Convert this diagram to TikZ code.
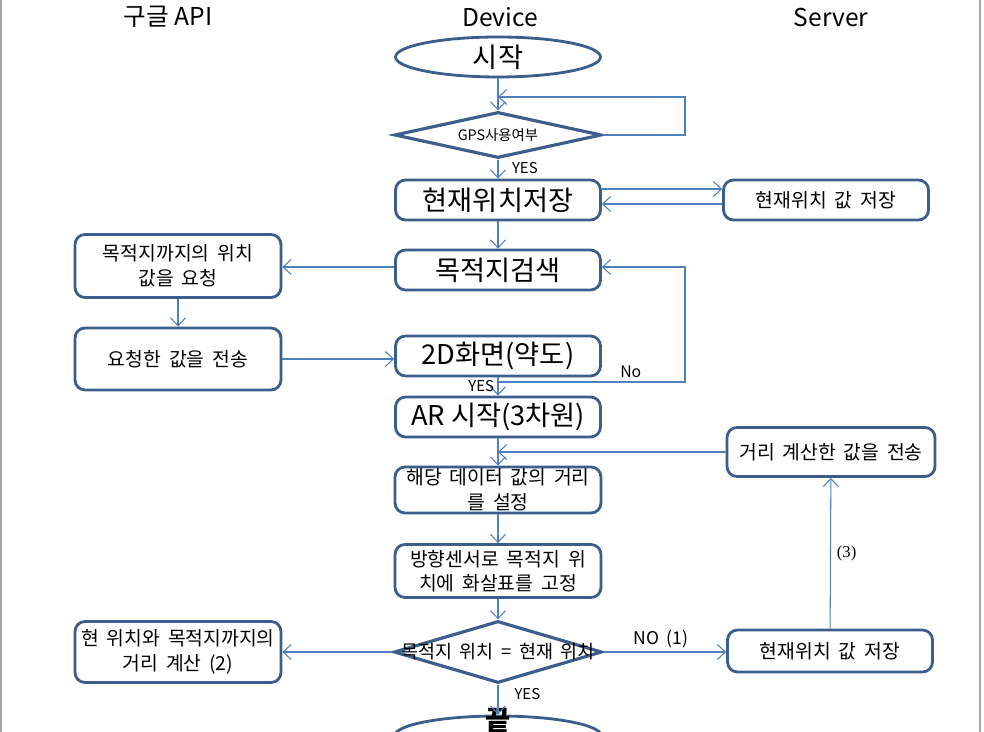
\documentclass[tikz,border=0pt]{standalone}
\usepackage{fontspec}
\setmainfont[WordSpace=1.8]{Noto Sans CJK KR}
\newfontfamily\plainkr{Noto Sans CJK KR}
\newfontfamily\numserif{Liberation Serif}
\usepackage{tikz}
\usetikzlibrary{arrows.meta,shapes.geometric}
\definecolor{boxblue}{HTML}{3B5E8C}
\definecolor{lineblue}{HTML}{4F81BD}
\definecolor{pagegray}{HTML}{A6A6A6}
\tikzstyle{big box}=[rectangle,rounded corners=0.2cm,draw=boxblue,line width=1.6pt,minimum width=4.1cm,minimum height=0.8cm,inner sep=1pt,font=\plainkr\fontsize{15.5}{18}\selectfont]
\tikzstyle{small box}=[rectangle,rounded corners=0.2cm,draw=boxblue,line width=1.6pt,minimum width=4.12cm,minimum height=0.8cm,inner sep=1pt,align=center,font=\fontsize{11}{14}\selectfont]
\tikzstyle{terminal}=[ellipse,draw=boxblue,line width=1.6pt,minimum width=4.1cm,minimum height=0.8cm,inner sep=0pt,font=\fontsize{15.5}{18}\selectfont]
\tikzstyle{decision}=[diamond,draw=boxblue,line width=1.8pt,inner sep=0pt]
\tikzstyle{flow}=[draw=lineblue,line width=0.6pt,-{Straight Barb[length=1.6mm,width=3mm]}]
\tikzstyle{lbl}=[font=\fontsize{8.5}{10}\selectfont,inner sep=2pt]
\tikzstyle{header}=[font=\plainkr\fontsize{14}{16}\selectfont]

\begin{document}
\begin{tikzpicture}[x=0.02cm,y=-0.02cm]
        \useasboundingbox (0,0) rectangle (984,732);
        \clip (0,0) rectangle (984,732);
        \draw[pagegray,line width=1pt] (1,0) -- (1,732);
        \draw[pagegray,line width=1pt] (980,0) -- (980,732);
        % lanes
        \node[header] (api) at (168,17) {구글 API};
        \node[header] (device) at (500,17) {Device};
        \node[header] (server) at (831,17) {Server};
        % device column
        \node[terminal] (start) at (498,57) {시작};
        \node[decision,minimum width=4.14cm,minimum height=0.92cm,label={center:{\fontsize{8.2}{10}\selectfont GPS사용여부}}] (gps) at (498,135) {};
        \node[big box] (cur) at (498,200) {현재위치저장};
        \node[big box] (dest) at (498,270) {목적지검색};
        \node[big box] (map) at (498,356) {2D화면(약도)};
        \node[big box] (ar) at (498,417) {AR 시작(3차원)};
        \node[small box,minimum height=0.92cm] (setd) at (498,490) {해당 데이터 값의 거리\\를 설정};
        \node[small box,minimum height=1.06cm] (sensor) at (498,571) {방향센서로 목적지 위\\치에 화살표를 고정};
        \node[decision,minimum width=4.16cm,minimum height=1.24cm,label={center:{\fontsize{10.5}{12}\selectfont 목적지 위치 = 현재 위치}}] (check) at (498,652) {};
        \node[terminal,minimum width=4.14cm,label={[yshift=0.3cm]center:{\fontsize{15.5}{18}\selectfont\bfseries 끝}}] (end) at (498,736) {};
        % google api column
        \node[small box,minimum height=1.26cm] (req) at (178,266) {목적지까지의 위치\\값을 요청};
        \node[small box,minimum height=1.24cm] (send) at (178,359) {요청한 값을 전송};
        \node[small box,minimum height=1.22cm] (calc) at (178,652) {현 위치와 목적지까지의\\거리 계산 (2)};
        % server column
        \node[small box,minimum width=4.1cm] (srv1) at (826,200) {현재위치 값 저장};
        \node[small box,minimum width=4.16cm,minimum height=0.98cm] (srv2) at (831,452) {거리 계산한 값을 전송};
        \node[small box,minimum width=4.1cm,minimum height=0.84cm] (srv3) at (830,651) {현재위치 값 저장};
        \coordinate (gpsloop) at (685,97);
        \coordinate (gpsin) at (498,97);
        \coordinate (noturn) at (685,382);
        % connectors
        \draw[flow] (start) -- (gps);
        \draw[flow] (gps.east) -- (gps.east -| gpsloop) -- (gpsloop) -- (gpsin);
        \draw[flow] (gps) -- node[lbl,right,pos=0.45,xshift=0.2cm]{YES} (cur);
        \draw[flow] ([yshift=0.22cm]cur.east) -- ([yshift=0.22cm]srv1.west);
        \draw[flow] ([yshift=-0.08cm]srv1.west) -- ([yshift=-0.08cm]cur.east);
        \draw[flow] (cur) -- (dest);
        \draw[flow] ([yshift=0.06cm]dest.west) -- ([yshift=0.06cm]dest.west -| req.east);
        \draw[flow] (req) -- (send);
        \draw[flow] (send.east) -- (send.east -| map.west);
        \draw[flow] (map) -- node[lbl,left,pos=0.45]{YES} (ar);
        \draw[flow] (map.south |- noturn) -- node[lbl,above,pos=0.71,font=\fontsize{9}{10}\selectfont]{No} (noturn) |- ([yshift=0.06cm]dest.east);
        \draw[flow] (ar) -- (setd);
        \draw[flow] (srv2.west) -- (srv2.west -| ar.south);
        \draw[flow] (setd) -- (sensor);
        \draw[flow] (sensor) -- (check);
        \draw[flow] (check.east) -- node[lbl,above,pos=0.47,font=\fontsize{10}{11}\selectfont]{NO (1)} (check.east -| srv3.west);
        \draw[flow] (check.west) -- (check.west -| calc.east);
        \draw[flow] (check) -- node[lbl,right,pos=0.3,xshift=0.25cm]{YES} (end);
        \draw[flow] (srv3) -- node[right,pos=0.5,font=\fontsize{9.5}{11}\numserif]{(3)} (srv2);
\end{tikzpicture}
\end{document}
